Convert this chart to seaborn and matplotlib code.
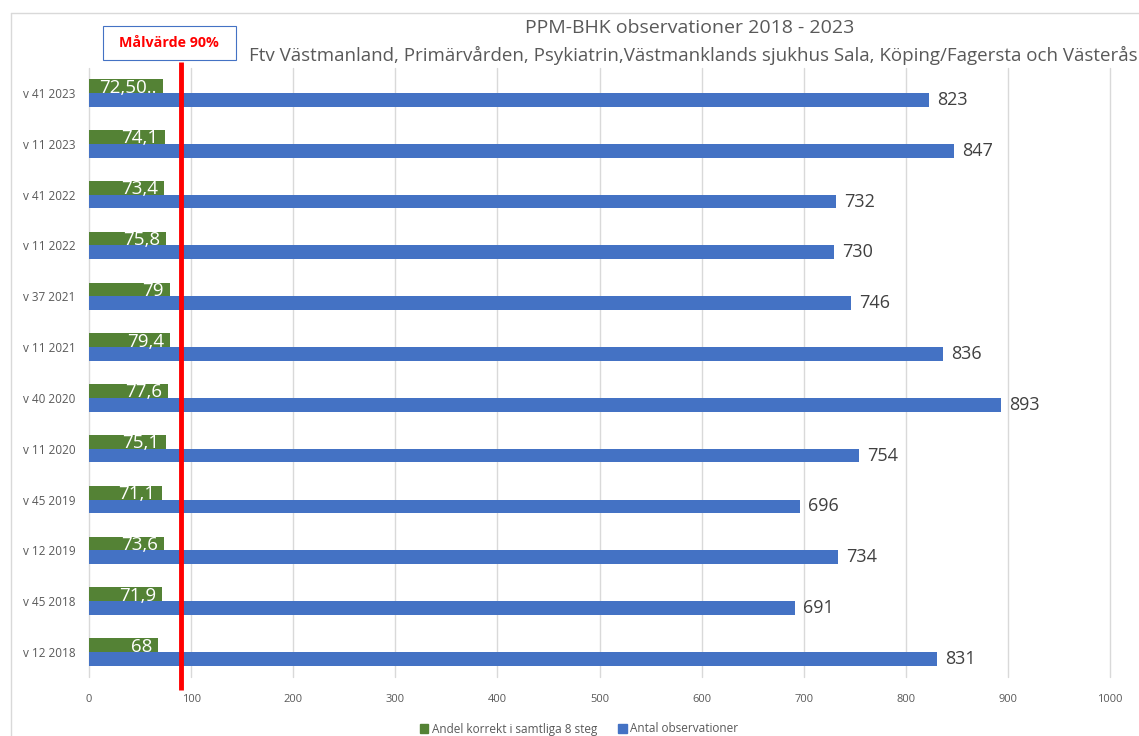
import matplotlib
matplotlib.use("Agg")
import matplotlib.pyplot as plt
import matplotlib.patches as mpatches
import matplotlib.transforms as mtransforms
import seaborn as sns
import pandas as pd

# Measurement rounds, listed top to bottom
periods = ["v 41 2023", "v 11 2023", "v 41 2022", "v 11 2022", "v 37 2021",
           "v 11 2021", "v 40 2020", "v 11 2020", "v 45 2019", "v 12 2019",
           "v 45 2018", "v 12 2018"]
andel_korrekt = [72.5, 74.1, 73.4, 75.8, 79, 79.4, 77.6, 75.1, 71.1, 73.6, 71.9, 68]
andel_labels = ["72,50..", "74,1", "73,4", "75,8", "79", "79,4", "77,6", "75,1",
                "71,1", "73,6", "71,9", "68"]
antal_obs = [823, 847, 732, 730, 746, 836, 893, 754, 696, 734, 691, 831]
target = 90
x_ticks = [0, 100, 200, 300, 400, 500, 600, 700, 800, 900, 1000]

series_green = "Andel korrekt i samtliga 8 steg"
series_blue = "Antal observationer"
GREEN = "#548235"
BLUE = "#4472C4"
GREY_TXT = "#595959"

df = pd.DataFrame({
    "period": periods * 2,
    "value": andel_korrekt + antal_obs,
    "series": [series_green] * len(periods) + [series_blue] * len(periods),
})

sns.set_theme(style="white")
plt.rcParams["font.family"] = ["Open Sans", "DejaVu Sans"]

fig = plt.figure(figsize=(11.39, 7.36), dpi=100)
W, H = 1139, 736
ax = fig.add_axes([89 / W, 1 - 677.4 / H, (1110 - 89) / W, (677.4 - 67.6) / H])

sns.barplot(data=df, y="period", x="value", hue="series", orient="h",
            order=periods, hue_order=[series_green, series_blue],
            palette=[GREEN, BLUE], width=0.54, dodge=True, saturation=1,
            linewidth=0, legend=False, ax=ax, zorder=2)

ax.set_xlim(0, 1000)
ax.set_xticks(x_ticks)
ax.set_xticklabels([str(t) for t in x_ticks], fontsize=8, color=GREY_TXT)
ax.tick_params(axis="y", labelsize=8.5, labelcolor=GREY_TXT, length=0, pad=9.5)
ax.tick_params(axis="x", length=0, pad=12)
ax.set_xlabel("")
ax.set_ylabel("")
for s in ax.spines.values():
    s.set_visible(False)
ax.grid(axis="x", color="#d9d9d9", linewidth=1, zorder=0)
ax.set_axisbelow(True)
for gl in ax.get_xgridlines():
    gl.set_clip_on(False)

green_bars, blue_bars = ax.containers[0], ax.containers[1]

# Percentage labels inside the end of the green bars
for rect, txt in zip(green_bars, andel_labels):
    ax.text(rect.get_width() - 6, rect.get_y() + rect.get_height() * 0.6, txt,
            ha="right", va="center", color="white", fontsize=13.5, zorder=4)

# Count labels after the blue bars
for rect, val in zip(blue_bars, antal_obs):
    ax.text(rect.get_width() + 8, rect.get_y() + rect.get_height() / 2, str(val),
            ha="left", va="center", color="#404040", fontsize=13, zorder=4)

# Target line
trans = mtransforms.blended_transform_factory(ax.transData, ax.transAxes)
ax.plot([target, target], [-0.021, 1.009], transform=trans, color="#FF0000",
        linewidth=3.5, clip_on=False, zorder=5, solid_capstyle="butt",
        scaley=False)

ax.set_ylim(len(periods) - 0.5, -0.5)

# Target label box
fig.patches.append(mpatches.Rectangle((103 / W, 1 - 60 / H), 133 / W, 34 / H,
                                      transform=fig.transFigure, facecolor="white",
                                      edgecolor="#4472C4", linewidth=0.8, zorder=6))
fig.text(169 / W, 1 - 43 / H, "Målvärde 90%", ha="center", va="center",
         color="#FF0000", fontsize=10.3, fontweight="bold", zorder=7)

# Titles
fig.text(690 / W, 1 - 28 / H, "PPM-BHK observationer 2018 - 2023", ha="center",
         va="center", color=GREY_TXT, fontsize=14)
fig.text(693 / W, 1 - 55 / H,
         "Ftv Västmanland, Primärvården, Psykiatrin,Västmanklands sjukhus Sala, Köping/Fagersta och Västerås",
         ha="center", va="center", color=GREY_TXT, fontsize=13.5)

# Chart frame
fig.lines.append(plt.Line2D([11 / W, 11 / W], [0, 1 - 13 / H], transform=fig.transFigure,
                            color="#d9d9d9", linewidth=1))
fig.lines.append(plt.Line2D([11 / W, 1], [1 - 13 / H, 1 - 13 / H], transform=fig.transFigure,
                            color="#d9d9d9", linewidth=1))

# Legend
handles = [mpatches.Patch(color=GREEN, label=series_green),
           mpatches.Patch(color=BLUE, label=series_blue)]
fig.legend(handles=handles, loc="center", bbox_to_anchor=(579 / W, 1 - 729 / H),
           ncol=2, frameon=False, fontsize=8.5, handlelength=0.7, handleheight=0.7,
           handletextpad=0.3, columnspacing=1.8, labelcolor=GREY_TXT)

fig.savefig("out.png", dpi=100)
